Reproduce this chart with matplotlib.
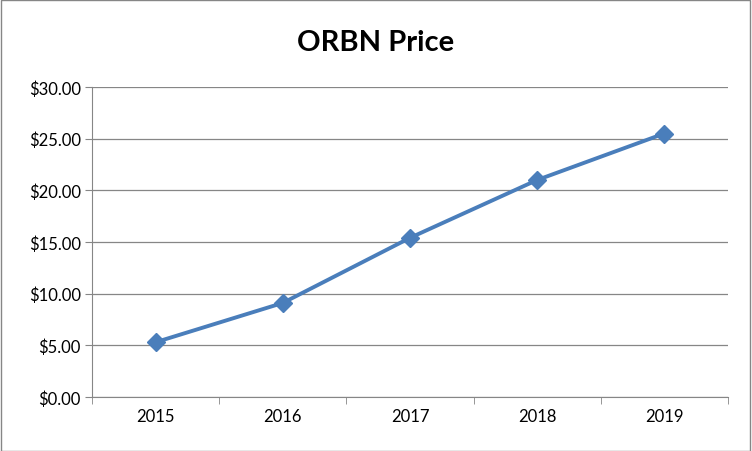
import matplotlib
matplotlib.use("Agg")
import matplotlib.pyplot as plt
from matplotlib.patches import Rectangle

years = ["2015", "2016", "2017", "2018", "2019"]
prices = [5.3, 9.1, 15.4, 21.0, 25.5]
yticks = [0, 5, 10, 15, 20, 25, 30]

plt.rcParams["font.family"] = "Lato"
fig = plt.figure(figsize=(7.52, 4.52), dpi=100)
fig.patches.append(Rectangle((0.001, 0.001), 0.997, 0.997, transform=fig.transFigure,
                             fill=False, edgecolor="#868686", linewidth=1))
ax = fig.add_axes([0.1223, 0.1195, 0.8457, 0.6858])
x = list(range(len(years)))
ax.grid(axis="y", color="#868686", linewidth=0.9)
ax.set_axisbelow(True)
ax.plot(x, prices, color="#4A7EBB", linewidth=2.8, marker="D", markersize=9,
        markerfacecolor="#4A7EBB", markeredgecolor="#4A7EBB")
ax.set_xlim(-0.5, len(years) - 0.5)
ax.set_ylim(0, 30)
ax.set_yticks(yticks)
ax.set_yticklabels([f"${v:.2f}" for v in yticks], fontsize=12)
ax.set_xticks(x)
ax.set_xticklabels(years, fontsize=12)
ax.tick_params(axis="x", length=0, pad=8)
ax.tick_params(axis="y", length=5, color="#868686", pad=3)
ax.set_xticks([i - 0.5 for i in range(len(years) + 1)], minor=True)
ax.tick_params(axis="x", which="minor", length=5, color="#868686")
for s in ["top", "right"]:
    ax.spines[s].set_visible(False)
for s in ["left", "bottom"]:
    ax.spines[s].set_color("#868686")
fig.text(0.5, 0.905, "ORBN Price", ha="center", va="center", fontsize=21, fontweight="bold")
fig.savefig("out.png", dpi=100)
